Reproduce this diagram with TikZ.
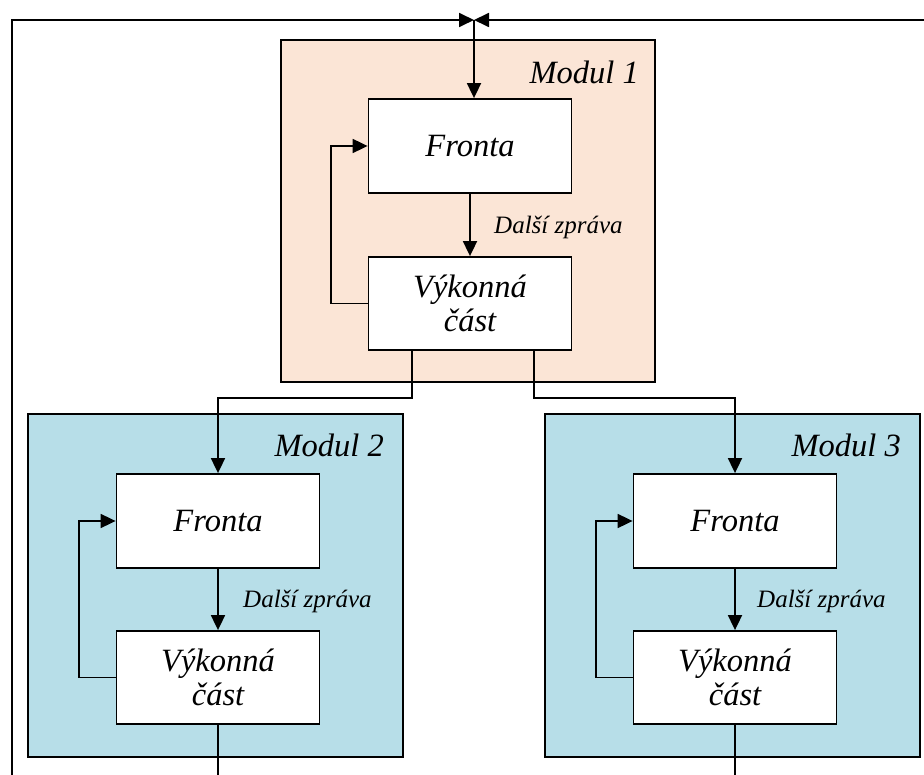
\documentclass[tikz,border=0pt]{standalone}
\usepackage{fontspec}
\setmainfont{Liberation Serif}
\usetikzlibrary{arrows.meta}
\definecolor{peach}{HTML}{FBE5D6}
\definecolor{aqua}{HTML}{B7DEE8}
\tikzset{
  modbox/.style={draw=black, line width=1.8pt, inner sep=0pt, minimum width=375pt, minimum height=343pt},
  unit/.style={draw=black, fill=white, line width=1.8pt, inner sep=0pt, minimum width=203pt, minimum height=94pt,
    font=\fontsize{32.5}{34}\selectfont\itshape, align=center},
  modlbl/.style={font=\fontsize{32.5}{34}\selectfont\itshape, inner sep=0pt, anchor=east},
  msglbl/.style={font=\fontsize{25}{28}\selectfont\itshape, inner sep=0pt, anchor=west},
  wire/.style={line width=1.8pt, draw=black},
  arr/.style={wire, -{Triangle[length=15pt,width=14pt]}},
}
\begin{document}
\begin{tikzpicture}[x=1pt,y=-1pt]
\useasboundingbox (0,0) rectangle (924,775);

% module frames
\node[modbox, fill=peach, minimum width=374pt, minimum height=342pt] (m1) at (468,211) {};
\node[modbox, fill=aqua] (m2) at (215.5,585.5) {};
\node[modbox, fill=aqua] (m3) at (732.5,585.5) {};

\node[modlbl] (l1) at (639,72) {Modul 1};
\node[modlbl] (l2) at (384,445) {Modul 2};
\node[modlbl] (l3) at (901,445) {Modul 3};

% queue and executive part of each module
\node[unit] (f1) at (470,146) {Fronta};
\node[unit, minimum height=93pt] (v1) at (470,303.5) {Výkonná\\část};
\node[unit] (f2) at (218,521) {Fronta};
\node[unit, minimum height=93pt] (v2) at (218,677.5) {Výkonná\\část};
\node[unit] (f3) at (735,521) {Fronta};
\node[unit, minimum height=93pt] (v3) at (735,677.5) {Výkonná\\část};

\node[msglbl] (d1) at (494,227) {Další zpráva};
\node[msglbl] (d2) at (243,601) {Další zpráva};
\node[msglbl] (d3) at (757,601) {Další zpráva};

% outer return lines
\coordinate (tj) at (474,20);
\coordinate (lc) at (12,20);
\coordinate (bl) at (12,775);
\coordinate (tr) at (924,20);
\coordinate (b2) at (218,775);
\coordinate (b3) at (735,775);

\draw[arr] (bl) -- (lc) -- (tj);
\draw[arr] (tr) -- (tj);
\draw[arr] (tj) -- (tj |- f1.north);

% inner flows
\draw[arr] (f1) -- (v1);
\draw[arr] (f2) -- (v2);
\draw[arr] (f3) -- (v3);

\draw[arr] (v1.west) -- ++(-37,0) |- (f1.west);
\draw[arr] (v2.west) -- ++(-37,0) |- (f2.west);
\draw[arr] (v3.west) -- ++(-37,0) |- (f3.west);

% fan-out from module 1
\draw[arr] ([xshift=-58pt]v1.south) -- ++(0,47) -| (f2.north);
\draw[arr] ([xshift=64pt]v1.south) -- ++(0,47) -| (f3.north);

% outputs of modules 2 and 3
\draw[wire] (v2.south) -- (b2);
\draw[wire] (v3.south) -- (b3);
\end{tikzpicture}
\end{document}
